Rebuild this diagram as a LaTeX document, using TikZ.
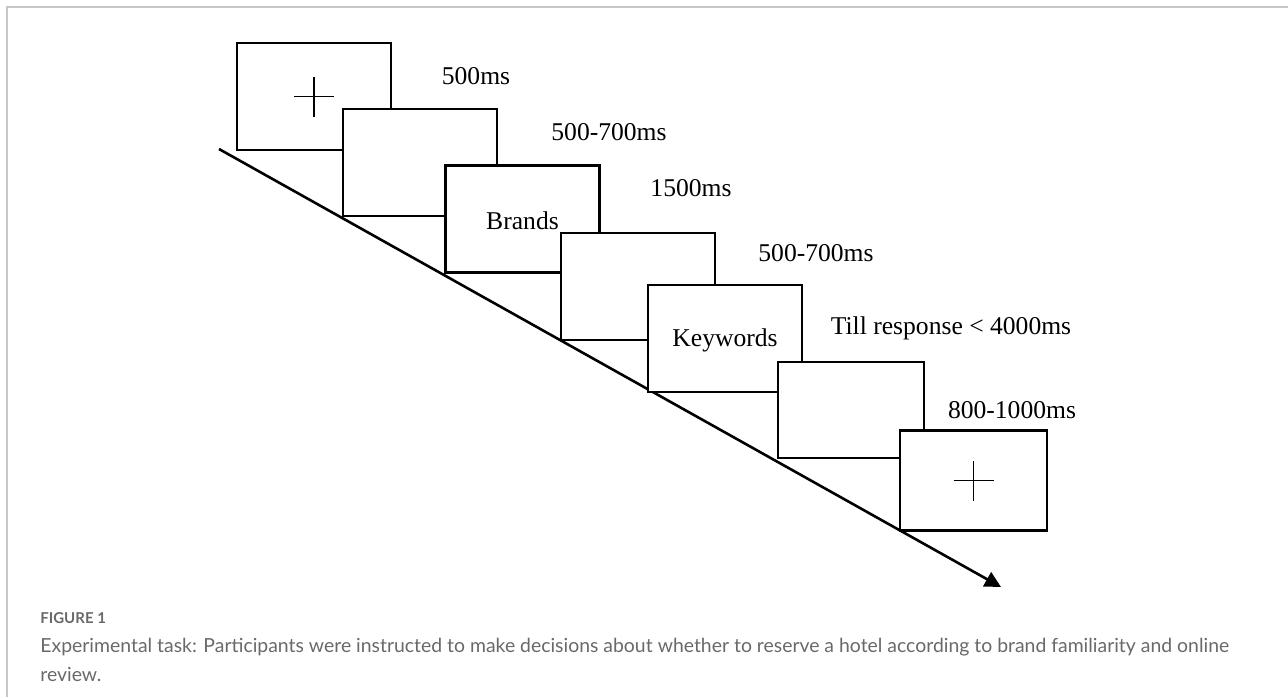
\documentclass[tikz,border=0pt]{standalone}
\usepackage{fontspec}
\setmainfont{Liberation Serif}
\newfontfamily\capfont{Lato}
\usetikzlibrary{arrows.meta}
\definecolor{capgray}{RGB}{105,105,105}
\definecolor{framegray}{RGB}{200,200,200}
\tikzset{
	screen/.style={draw,line width=1.4pt,fill=white,minimum width=77pt,minimum height=53.5pt,inner sep=0pt},
	dur/.style={font=\fontsize{12.8}{15}\selectfont,inner sep=0pt},
	word/.style={font=\fontsize{12.8}{15}\selectfont,inner sep=0pt},
	fix/.style={line width=0.9pt},
}
\begin{document}
\begin{tikzpicture}[x=0.5pt,y=-0.5pt]
	\useasboundingbox (0,0) rectangle (1288,697);
	\draw [framegray,line width=1pt] (7,697) -- (7,7) -- (1288,7);
	% time axis
	\node [coordinate] (T0) at (219,149) {};
	\node [coordinate] (T1) at (1001,587) {};
	\draw [line width=1.3pt,-{Triangle[length=8pt,width=8pt]}] (T0) -- (T1);
	% screens
	\node [screen] (S1) at (314,96.5) {};
	\node [screen] (S2) at (420,162.5) {};
	\node [screen] (S3) at (522.5,219) {};
	\node [screen] (S4) at (638,286.5) {};
	\node [screen] (S5) at (725,338.5) {};
	\node [screen,minimum width=73pt,minimum height=48pt] (S6) at (851,410) {};
	\node [screen,minimum width=73.5pt,minimum height=50pt] (S7) at (973.5,480.5) {};
	\draw [fix] ([xshift=-10pt]S1.center) -- ([xshift=10pt]S1.center);
	\draw [fix] ([yshift=-10pt]S1.center) -- ([yshift=10pt]S1.center);
	\draw [fix] ([xshift=-10pt]S7.center) -- ([xshift=10pt]S7.center);
	\draw [fix] ([yshift=-10pt]S7.center) -- ([yshift=10pt]S7.center);
	\node [word] (B) at (522.5,221) {Brands};
	\node [word] (K) at (725,340) {Keywords};
	% durations
	\node [dur] (D1) at (476,76) {500ms};
	\node [dur] (D2) at (609,132) {500-700ms};
	\node [dur] (D3) at (691,188) {1500ms};
	\node [dur] (D4) at (816,253) {500-700ms};
	\node [dur] (D5) at (951,328) {Till response < 4000ms};
	\node [dur] (D6) at (1012,410) {800-1000ms};
	% caption
	\node [anchor=west,inner sep=0pt,text=capgray,font=\capfont\bfseries\fontsize{7.5}{9}\selectfont] (F) at (40,618) {FIGURE 1};
	\node [anchor=west,inner sep=0pt,text=capgray,font=\capfont\fontsize{9.7}{12}\selectfont] (C1) at (40,647) {Experimental task: Participants were instructed to make decisions about whether to reserve a hotel according to brand familiarity and online};
	\node [anchor=west,inner sep=0pt,text=capgray,font=\capfont\fontsize{9.7}{12}\selectfont] (C2) at (40,674) {review.};
\end{tikzpicture}
\end{document}
